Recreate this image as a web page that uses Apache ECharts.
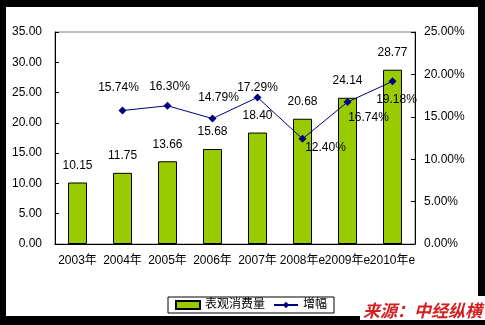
<!DOCTYPE html>
<html><head><meta charset="utf-8">
<script src="https://cdn.jsdelivr.net/npm/echarts@6/dist/echarts.min.js"></script>
<style>html,body{margin:0;padding:0;background:#000}#c{width:485px;height:325px}</style>
</head><body><div id="c"></div>
<script>
const categories = ['2003年','2004年','2005年','2006年','2007年','2008年e','2009年e','2010年e'];
const consumption = [10.15, 11.75, 13.66, 15.68, 18.40, 20.68, 24.14, 28.77];
const growth = [null, 15.74, 16.30, 14.79, 17.29, 12.40, 16.74, 19.18];
const growthLabelOffsets = [null, [-4,-23], [2,-19], [6,-21], [0,-10], [23,9], [21,16], [4,18]];

const FONT = '"Liberation Sans", Arial, "Noto Sans CJK SC", sans-serif';
const chart = echarts.init(document.getElementById('c'), null, {renderer:'canvas'});
chart.setOption({
  backgroundColor: '#000',
  animation: false,
  textStyle: {fontFamily: FONT, color:'#000'},
  graphic: [
    {type:'rect', shape:{x:6,y:7,width:472,height:309}, style:{fill:'#fff'}, z:-10},
    {type:'rect', shape:{x:360,y:296,width:125,height:24}, style:{fill:'#fff'}, z:-9},
    {type:'text', left: 363, top: 302, z: 10,
     style:{text:'来源：中经纵横', fill:'#d42020', font:'italic bold 17px "Noto Sans CJK SC", sans-serif'}}
  ],
  grid: {left:55, right:70, top:32, bottom:81, show:true, borderColor:'#808080', borderWidth:1, backgroundColor:'#fff'},
  legend: {
    left: 168, top: 297, orient:'horizontal',
    backgroundColor:'#fff', borderColor:'#000', borderWidth:1, borderRadius:0,
    padding:[2,7], itemGap:8, itemWidth:24, itemHeight:8,
    textStyle:{fontSize:12, fontFamily:FONT, color:'#000'},
    data:[{name:'表观消费量', icon:'rect'}, {name:'增幅'}]
  },
  xAxis: {
    type:'category', data: categories,
    axisLine:{lineStyle:{color:'#000', width:1}},
    axisTick:{inside:true, length:4, lineStyle:{color:'#000'}},
    axisLabel:{interval:0, fontSize:12, color:'#000', margin:11, hideOverlap:false, fontFamily:FONT}
  },
  yAxis: [
    {type:'value', min:0, max:35, interval:5,
     axisLine:{show:true, lineStyle:{color:'#000'}},
     axisTick:{show:true, inside:true, length:4, lineStyle:{color:'#000'}},
     splitLine:{show:false},
     axisLabel:{formatter:v=>v.toFixed(2), fontSize:12, color:'#000', margin:13, fontFamily:FONT}},
    {type:'value', min:0, max:25, interval:5, position:'right',
     axisLine:{show:true, lineStyle:{color:'#000'}},
     axisTick:{show:true, inside:true, length:4, lineStyle:{color:'#000'}},
     splitLine:{show:false},
     axisLabel:{formatter:v=>v.toFixed(2)+'%', fontSize:12, color:'#000', margin:9, fontFamily:FONT}}
  ],
  series: [
    {name:'表观消费量', type:'bar', data: consumption, barWidth:19, yAxisIndex:0,
     itemStyle:{color:'#99cc00', borderColor:'#000', borderWidth:1},
     label:{show:true, position:'top', distance:11, formatter:p=>p.value.toFixed(2), fontSize:12, color:'#000', fontFamily:FONT}},
    {name:'增幅', type:'line', yAxisIndex:1, connectNulls:false,
     data: growth.map((v,i)=> v===null ? null : {value:v, label:{offset: growthLabelOffsets[i]}}),
     symbol:'diamond', symbolSize:8, showSymbol:true,
     lineStyle:{color:'#000080', width:1}, itemStyle:{color:'#000080'},
     label:{show:true, position:'inside', formatter:p=>p.value.toFixed(2)+'%', fontSize:12, color:'#000', fontFamily:FONT},
     z:5}
  ]
});
</script></body></html>
